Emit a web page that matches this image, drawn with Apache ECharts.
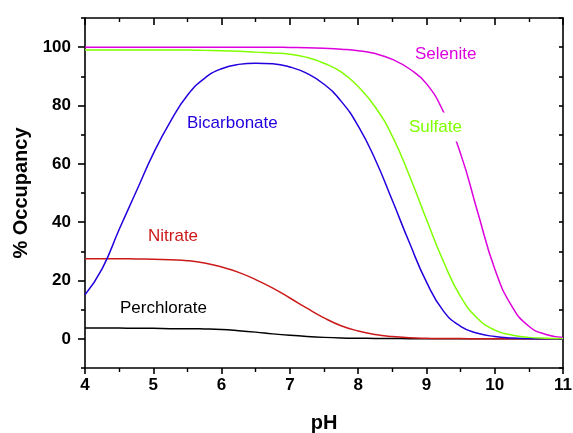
<!DOCTYPE html>
<html>
<head>
<meta charset="utf-8">
<script src="https://cdn.jsdelivr.net/npm/echarts@6/dist/echarts.min.js"></script>
<style>html,body{margin:0;padding:0;background:#fff}#c{width:573px;height:433px}</style>
</head>
<body>
<div id="c"></div>
<script>
// pH grid shared by all series
var phValues = [4.00,4.25,4.50,4.75,5.00,5.25,5.50,5.75,6.00,6.25,6.50,6.75,7.00,7.25,7.50,7.75,8.00,8.25,8.50,8.75,9.00,9.25,9.50,9.75,10.00,10.25,10.50,10.75,11.00];
var selenite    = [100,100,100,100,100,100,100,100,100,100,100,100,99.9,99.8,99.6,99.3,98.8,97.8,95.8,92.6,87.5,77.8,63.5,43.5,24,11.2,4.3,1.5,0.5];
var sulfate     = [99,99,99,99,99,99,99,98.9,98.8,98.6,98.3,98,97.6,96.5,94.5,91.5,86.5,79.5,69.5,56,41,26.5,14.5,7,3,1.3,0.5,0.2,0.1];
var bicarbonate = [15.1,24,37.5,50.5,63.5,74.5,83.5,89.3,92.6,94.1,94.5,94.3,93.2,91,87.3,81.5,73,61.5,47.5,33,19.5,9.5,4.3,1.9,0.8,0.3,0.1,0,0];
var nitrate     = [27.5,27.5,27.5,27.4,27.3,27.1,26.8,26,24.6,22.8,20.3,17.4,14,10.5,7.2,4.5,2.7,1.5,0.8,0.4,0.2,0.1,0.1,0,0,0,0,0,0];
var perchlorate = [3.7,3.7,3.7,3.6,3.6,3.5,3.5,3.4,3.2,2.8,2.3,1.7,1.2,0.8,0.5,0.3,0.2,0.15,0.1,0.05,0,0,0,0,0,0,0,0,0];

var seriesNames = ['Perchlorate','Nitrate','Bicarbonate','Sulfate','Selenite'];
var seriesData = [perchlorate, nitrate, bicarbonate, sulfate, selenite];
var seriesColors = ['#000000','#cc1a1a','#2200dd','#80ff00','#dd00dd'];

var yMajorTicks = [0,20,40,60,80,100];
var yMinorTicks = [-10,10,30,50,70,90,110];
var yAllTicks = [-10,0,10,20,30,40,50,60,70,80,90,100,110];

var FONT = "'Liberation Sans', Arial, sans-serif";

function pairs(ys){ return phValues.map(function(x,i){ return [x, ys[i]]; }); }

var chart = echarts.init(document.getElementById('c'), null, {renderer:'canvas'});
var lineStyle = {color:'#000', width:1.6};

var option = {
  animation:false,
  backgroundColor:'#fff',
  grid:{left:85, right:10, top:18, bottom:65, containLabel:false, outerBoundsMode:'none'},
  xAxis:[
    {type:'value', position:'bottom', min:4, max:11, interval:1,
     axisLine:{show:true, onZero:false, lineStyle:lineStyle},
     axisTick:{show:true, inside:false, length:6, lineStyle:lineStyle},
     minorTick:{show:true, splitNumber:2, length:4, lineStyle:{color:'#000', width:1.4}},
     splitLine:{show:false},
     axisLabel:{color:'#000', fontFamily:FONT, fontWeight:'bold', fontSize:17, margin:9},
     name:'pH', nameLocation:'middle', nameGap:45,
     nameTextStyle:{color:'#000', fontFamily:FONT, fontWeight:'bold', fontSize:20}},
    {type:'value', position:'top', min:4, max:11, interval:1,
     axisLine:{show:true, onZero:false, lineStyle:lineStyle},
     axisTick:{show:true, inside:true, length:7, lineStyle:lineStyle},
     minorTick:{show:true, splitNumber:2, length:4, lineStyle:{color:'#000', width:1.4}},
     splitLine:{show:false}, axisLabel:{show:false}}
  ],
  yAxis:[
    {type:'value', position:'left', min:-10, max:110,
     axisLine:{show:true, onZero:false, lineStyle:lineStyle},
     axisTick:{show:true, inside:false, length:7, customValues:yMajorTicks, lineStyle:lineStyle},
     splitLine:{show:false},
     axisLabel:{customValues:yMajorTicks, color:'#000', fontFamily:FONT, fontWeight:'bold', fontSize:17, margin:14},
     name:'% Occupancy', nameLocation:'middle', nameGap:54,
     nameTextStyle:{color:'#000', fontFamily:FONT, fontWeight:'bold', fontSize:20}},
    {type:'value', position:'left', min:-10, max:110,
     axisLine:{show:false},
     axisTick:{show:true, inside:false, length:4, customValues:yMinorTicks, lineStyle:lineStyle},
     splitLine:{show:false}, axisLabel:{show:false}},
    {type:'value', position:'right', min:-10, max:110,
     axisLine:{show:true, onZero:false, lineStyle:lineStyle},
     axisTick:{show:true, inside:true, length:4, customValues:yAllTicks, lineStyle:lineStyle},
     splitLine:{show:false}, axisLabel:{show:false}}
  ],
  series: seriesNames.map(function(n,i){
    return {name:n, type:'line', xAxisIndex:0, yAxisIndex:0, data:pairs(seriesData[i]),
            smooth:0.5, showSymbol:false, symbol:'none',
            lineStyle:{color:seriesColors[i], width:1.5}, itemStyle:{color:seriesColors[i]}, z:2+i};
  }),
  graphic:[
    {type:'text', x:415, y:54, z:100, style:{text:'Selenite', fill:'#dd00dd', font:'17px '+FONT, verticalAlign:'middle'}},
    {type:'text', x:406, y:127, z:100, style:{text:'Sulfate', fill:'#80ff00', font:'17px '+FONT, verticalAlign:'middle', backgroundColor:'#fff', padding:[6,3,6,3]}},
    {type:'text', x:187, y:123, z:100, style:{text:'Bicarbonate', fill:'#2200dd', font:'17px '+FONT, verticalAlign:'middle'}},
    {type:'text', x:148, y:236, z:100, style:{text:'Nitrate', fill:'#cc1a1a', font:'17px '+FONT, verticalAlign:'middle'}},
    {type:'text', x:120, y:308, z:100, style:{text:'Perchlorate', fill:'#000', font:'17px '+FONT, verticalAlign:'middle'}}
  ]
};
chart.setOption(option);
</script>
</body>
</html>
